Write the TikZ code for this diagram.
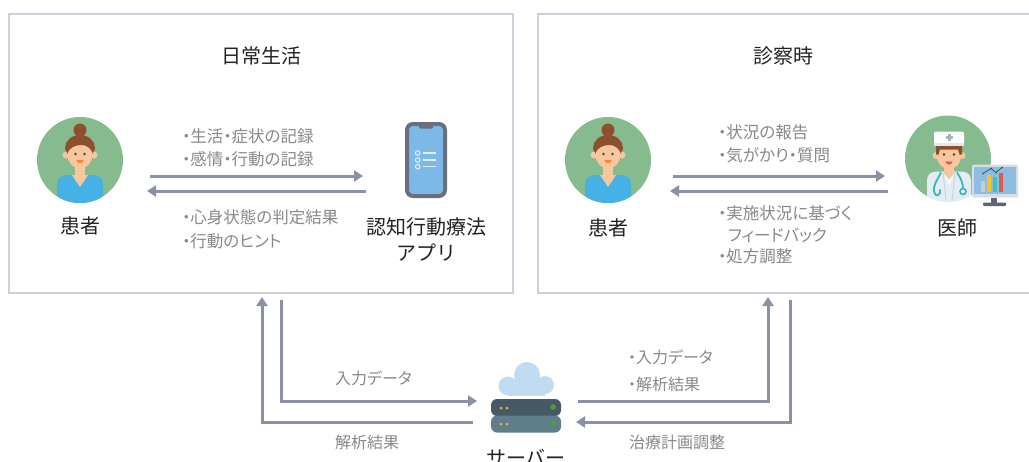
\documentclass[tikz,border=0pt]{standalone}
\usepackage{fontspec}
\setmainfont{Noto Sans CJK JP}
\newfontfamily\propfont[RawFeature=+palt]{Noto Sans CJK JP}
\usetikzlibrary{arrows.meta}

\definecolor{boxline}{HTML}{CDD0DB}
\definecolor{flow}{HTML}{8A90A6}
\definecolor{labelgray}{HTML}{888888}
\definecolor{ink}{HTML}{222222}
\definecolor{avatarbg}{HTML}{85BB8E}
\definecolor{hair}{HTML}{8E4F2C}
\definecolor{skin}{HTML}{F7C59E}
\definecolor{shirt}{HTML}{45B1E4}
\definecolor{mouth}{HTML}{F08A3A}
\definecolor{eye}{HTML}{5A3A2A}
\definecolor{coat}{HTML}{E4ECF3}
\definecolor{coatshade}{HTML}{F6F9FB}
\definecolor{coatline}{HTML}{C4D0DC}
\definecolor{steth}{HTML}{34B7B8}
\definecolor{capband}{HTML}{E3E8EE}
\definecolor{crossc}{HTML}{A9B4C2}
\definecolor{lips}{HTML}{E8505B}
\definecolor{monframe}{HTML}{D5DEE7}
\definecolor{monscreen}{HTML}{8EBDE2}
\definecolor{monstand}{HTML}{5D6670}
\definecolor{bargray}{HTML}{C9CCD0}
\definecolor{baryellow}{HTML}{F3C623}
\definecolor{barteal}{HTML}{3CC0C0}
\definecolor{barred}{HTML}{E05A4E}
\definecolor{chart}{HTML}{4A5560}
\definecolor{phoneframe}{HTML}{6C6E7A}
\definecolor{phonescreen}{HTML}{7DB9E8}
\definecolor{listc}{HTML}{E3EEF8}
\definecolor{cloud}{HTML}{BFDCF3}
\definecolor{rackA}{HTML}{455A64}
\definecolor{rackB}{HTML}{5F7D8A}
\definecolor{ledY}{HTML}{F5B921}
\definecolor{ledG}{HTML}{43A047}

\tikzset{
  panel/.style={draw=boxline, line width=2pt, inner sep=0pt},
  flowarrow/.style={draw=flow, line width=3pt, -{Triangle[length=9pt,width=11pt]}},
  heading/.style={text=ink, inner sep=0pt, font=\fontsize{20}{24}\selectfont},
  caption/.style={text=ink, inner sep=0pt, align=center, font=\fontsize{20}{26}\selectfont},
  note/.style={text=labelgray, inner sep=0pt, anchor=west, align=left},
  avatar/.style={circle, fill=avatarbg, minimum size=86pt, inner sep=0pt},
  woman/.pic={
    \begin{scope}
      \clip (0,0) circle (43);
      \fill[shirt] (-23,50) -- (-23,24) .. controls (-23,18) and (-19,15) .. (-13,15)
        -- (13,15) .. controls (19,15) and (23,18) .. (23,24) -- (23,50) -- cycle;
    \end{scope}
    \fill[skin] (-5,4) rectangle (5,16);
    \fill[skin] (-8,15) -- (8,15) -- (0,27) -- cycle;
    \fill[hair] (0,-30) circle (6.5);
    \fill[hair] (0,-12) ellipse [x radius=15, y radius=13];
    \fill[skin] (-14,-5) circle (3.5);
    \fill[skin] (14,-5) circle (3.5);
    \fill[skin] (0,-5) ellipse [x radius=12.5, y radius=13.5];
    \fill[hair] (-13,-6) .. controls (-14,-20) and (-7,-25) .. (0,-25)
      .. controls (7,-25) and (14,-20) .. (13,-6)
      .. controls (11,-12) and (7,-15) .. (1,-15)
      .. controls (-5,-15) and (-11,-12) .. cycle;
    \fill[eye] (-4.5,-6) circle (1.4);
    \fill[eye] (4.5,-6) circle (1.4);
    \fill[mouth] (-3.5,0) .. controls (-3,4.5) and (3,4.5) .. (3.5,0) -- cycle;
  },
  doctor/.pic={
    \begin{scope}
      \clip (0,0) circle (43.5);
      \fill[coat] (-21,50) -- (-21,22) .. controls (-21,16) and (-17,13) .. (-11,13)
        -- (13,13) .. controls (19,13) and (23,16) .. (23,22) -- (23,50) -- cycle;
      \fill[coatshade] (-5,13) -- (7,13) -- (1,27) -- cycle;
      \draw[coatline, line width=0.8pt] (-5,13) -- (-2,42);
      \draw[coatline, line width=0.8pt] (7,13) -- (4,42);
    \end{scope}
    \fill[skin] (-4,6) rectangle (6,15);
    \fill[skin] (-4,15) -- (6,15) -- (1,21) -- cycle;
    \fill[skin] (-12,-3) circle (3.5);
    \fill[skin] (14,-3) circle (3.5);
    \fill[skin] (1,-2) ellipse [x radius=12, y radius=12.5];
    \fill[hair] (-12,-14) -- (14,-14) -- (14,-4) -- (11.5,-4) -- (10,-9)
      -- (-8,-9) -- (-9.5,-4) -- (-12,-4) -- cycle;
    \fill[white, rounded corners=2pt] (-14,-27) rectangle (16,-13);
    \fill[capband] (-14,-16) rectangle (16,-13);
    \fill[crossc] (-0.5,-24.5) rectangle (2.5,-17.5);
    \fill[crossc] (-2.5,-22.5) rectangle (4.5,-19.5);
    \fill[eye] (-4,-4) circle (1.3);
    \fill[eye] (6,-4) circle (1.3);
    \fill[lips] (-2.5,3) .. controls (-2,7) and (4,7) .. (4.5,3) -- cycle;
    \draw[steth, line width=1.8pt] (-7,14) .. controls (-11,22) and (-15,27) .. (-14,33)
      .. controls (-13,39) and (-7,38) .. (-8,31);
    \draw[steth, line width=1.8pt] (9,14) .. controls (13,20) and (15,25) .. (15,30);
    \draw[steth, line width=1.6pt] (15,33) circle (3);
    % monitor with a small chart
    \fill[monframe, rounded corners=1.5pt] (24,6) rectangle (70,39);
    \fill[monscreen] (26,8) rectangle (68,35);
    \fill[monstand] (43,39) rectangle (49,45);
    \fill[monstand, rounded corners=1pt] (35,44) rectangle (58,47.5);
    \fill[bargray] (33,22) rectangle (37,33);
    \fill[baryellow] (39,16) rectangle (43,33);
    \fill[barteal] (45,18) rectangle (49,33);
    \fill[barred] (51,14) rectangle (55,33);
    \draw[chart, line width=0.8pt] (35,15) -- (43,10) -- (48,14) -- (54,9);
    \foreach \p in {(35,15),(43,10),(48,14),(54,9)} \fill[chart] \p circle (1);
  }
}

\begin{document}
\begin{tikzpicture}[x=1pt,y=-1pt]
  \useasboundingbox (0,0) rectangle (1029,461);
  \clip (0,0) rectangle (1029,461);

  % the two scenes
  \node[panel, minimum width=504pt, minimum height=279pt] (lbox) at (261,153.5) {};
  \node[panel, minimum width=510pt, minimum height=279pt] (rbox) at (793,153.5) {};
  \node[heading] (lhead) at (261,56) {日常生活};
  \node[heading] (rhead) at (783,56) {診察時};

  % daily life: patient and app
  \node[avatar] (pat1) at (80,160) {};
  \pic at (pat1) {woman};
  \node[caption] (pat1name) at (80,226) {患者};

  \node[draw=phoneframe, line width=4pt, rounded corners=6pt, fill=phonescreen,
        minimum width=38pt, minimum height=72pt, inner sep=0pt] (app) at (426,160) {};
  \fill[phoneframe, rounded corners=1pt] (419,124) rectangle (433,128.5);
  \foreach \yy in {153,160,166.7} {
    \draw[listc, line width=1pt] (417.7,\yy) circle (2.3);
    \draw[listc, line width=1.2pt] (422.7,\yy) -- (436,\yy);
  }
  \node[caption] (appname) at (426,239) {認知行動療法\\アプリ};

  \coordinate (pa1) at (150,176);
  \coordinate (ap1) at (363,176);
  \coordinate (ap2) at (366,191);
  \coordinate (pa2) at (147,191);
  \draw[flowarrow] (pa1) -- (ap1);
  \draw[flowarrow] (ap2) -- (pa2);
  \node[note, font=\propfont\fontsize{16.5}{23}\selectfont] (rec) at (182,147.5)
    {・生活・症状の記録\\・感情・行動の記録};
  \node[note, font=\propfont\fontsize{16.5}{24}\selectfont] (res) at (182,229)
    {・心身状態の判定結果\\・行動のヒント};

  % consultation: patient and doctor
  \node[avatar] (pat2) at (608,160) {};
  \pic at (pat2) {woman};
  \node[caption] (pat2name) at (608,228) {患者};

  \node[avatar] (doc) at (948,158.5) {};
  \pic at (doc) {doctor};
  \node[caption] (docname) at (957,228) {医師};

  \coordinate (pb1) at (673,176);
  \coordinate (dc1) at (885,176);
  \coordinate (dc2) at (888,191);
  \coordinate (pb2) at (670,191);
  \draw[flowarrow] (pb1) -- (dc1);
  \draw[flowarrow] (dc2) -- (pb2);
  \node[note, font=\propfont\fontsize{16.5}{23}\selectfont] (rep) at (718,143.5)
    {・状況の報告\\・気がかり・質問};
  \node[note, font=\propfont\fontsize{16.5}{21.5}\selectfont] (fb) at (718,235)
    {・実施状況に基づく\\\hspace*{0.6em}フィードバック\\・処方調整};

  % server
  \node[minimum width=70pt, minimum height=33pt, inner sep=0pt] (server) at (526,415.5) {};
  \fill[cloud] (527,375) circle (13);
  \fill[cloud] (508,386) circle (9.5);
  \fill[cloud] (545,385) circle (9);
  \fill[cloud] (508,384) rectangle (545,395.5);
  \fill[rackA, rounded corners=6pt] (491,399) rectangle (561,416);
  \fill[rackB, rounded corners=6pt] (491,415.5) rectangle (561,432.5);
  \foreach \yy in {408,424} {
    \fill[ledY] (501,\yy) circle (1.5);
    \fill[ledY] (507,\yy) circle (1.5);
  }
  \fill[ledG] (553,407) circle (2.8);
  \fill[ledG] (553,423) circle (2.8);
  \node[heading] (servername) at (526,458) {サーバー};

  % data exchange with the server
  \coordinate (lout) at (281,300);
  \coordinate (sin1) at (477,401);
  \coordinate (sout1) at (473,422);
  \coordinate (lin) at (262,297);
  \coordinate (sout2) at (578,401);
  \coordinate (rin) at (768,297);
  \coordinate (rout) at (790,300);
  \coordinate (sin2) at (576,422);
  \draw[flowarrow] (lout) |- (sin1);
  \draw[flowarrow] (sout1) -| (lin);
  \draw[flowarrow] (sout2) -| (rin);
  \draw[flowarrow] (rout) |- (sin2);

  \node[note, font=\propfont\fontsize{16}{20}\selectfont] (inl) at (335,378) {入力データ};
  \node[note, font=\propfont\fontsize{16}{20}\selectfont] (anl) at (335,442) {解析結果};
  \node[note, font=\propfont\fontsize{16}{27}\selectfont] (inr) at (628,370.5) {・入力データ\\・解析結果};
  \node[note, font=\propfont\fontsize{16}{20}\selectfont] (adj) at (629,442) {治療計画調整};
\end{tikzpicture}
\end{document}
